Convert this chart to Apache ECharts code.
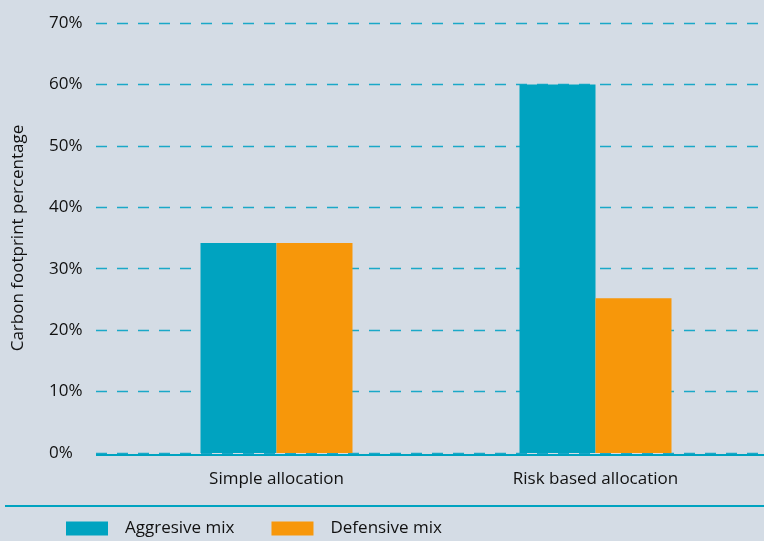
<!DOCTYPE html>
<html><head><meta charset="utf-8">
<script src="https://cdn.jsdelivr.net/npm/echarts@6/dist/echarts.min.js"></script>
<style>html,body{margin:0;padding:0;background:#d4dce5;}#c{width:764px;height:541px;}</style>
</head><body><div id="c"></div>
<script>
const categories = ['Simple allocation', 'Risk based allocation'];
const aggressive = [34.2, 60];
const defensive = [34.2, 25.2];
const seriesNames = ['Aggresive mix', 'Defensive mix'];
const yTicks = [0, 10, 20, 30, 40, 50, 60, 70];

const FONT = '"Open Sans", "Noto Sans", sans-serif';
const TEAL = '#00a3c0', ORANGE = '#f7970a';
const chart = echarts.init(document.getElementById('c'));
chart.setOption({
  backgroundColor: '#d4dce5',
  textStyle: { fontFamily: FONT },
  grid: [
    { left: 96, right: 0, top: 23, bottom: 88 },
    { left: 117, width: 638, top: 23, bottom: 88 }
  ],
  xAxis: [
    { gridIndex: 0, type: 'value', show: false },
    { gridIndex: 1, type: 'category', data: categories,
      axisLine: { show: false }, axisTick: { show: false },
      axisLabel: { color: '#111', fontSize: 17, margin: 18, fontFamily: FONT } }
  ],
  yAxis: [
    { gridIndex: 0, type: 'value', min: yTicks[0], max: yTicks[yTicks.length - 1], interval: 10,
      name: 'Carbon footprint percentage', nameLocation: 'middle', nameGap: 69,
      nameTextStyle: { color: '#111', fontSize: 17, fontFamily: FONT },
      axisLine: { show: false }, axisTick: { show: false },
      axisLabel: { formatter: '{value}%', align: 'left', margin: 47, color: '#111', fontSize: 17, fontFamily: FONT },
      splitLine: { lineStyle: { color: '#1aa8c8', width: 1.3, type: [11, 10] } } },
    { gridIndex: 1, type: 'value', min: 0, max: 70, show: false, splitLine: { show: false } }
  ],
  legend: {
    left: 61, top: 515, itemWidth: 42, itemHeight: 14, itemGap: 37, icon: 'rect',
    textStyle: { color: '#111', fontSize: 17, fontFamily: FONT, padding: [0, 0, 0, 12] },
    data: seriesNames
  },
  series: [
    { name: seriesNames[0], type: 'bar', xAxisIndex: 1, yAxisIndex: 1, data: aggressive,
      barWidth: 76, barGap: '0%', itemStyle: { color: TEAL } },
    { name: seriesNames[1], type: 'bar', xAxisIndex: 1, yAxisIndex: 1, data: defensive,
      barWidth: 76, barGap: '0%', itemStyle: { color: ORANGE } }
  ],
  graphic: [
    { type: 'line', shape: { x1: 96, y1: 455, x2: 764, y2: 455 }, style: { stroke: TEAL, lineWidth: 2 }, z: 10 },
    { type: 'line', shape: { x1: 5, y1: 506, x2: 764, y2: 506 }, style: { stroke: TEAL, lineWidth: 2 } }
  ]
});
</script></body></html>
